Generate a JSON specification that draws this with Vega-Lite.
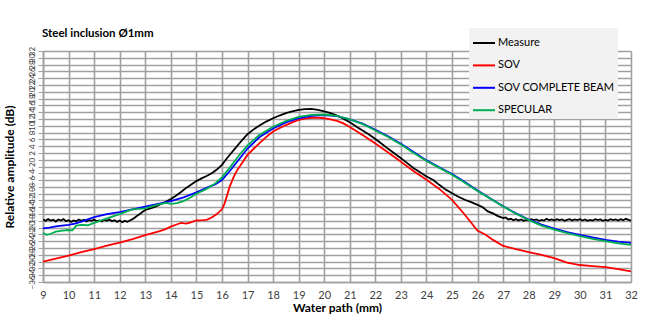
{
  "$schema": "https://vega.github.io/schema/vega-lite/v6.json",
  "width": 588,
  "height": 231,
  "autosize": "none",
  "padding": {"left": 43, "top": 51, "right": 30, "bottom": 54},
  "background": "white",
  "config": {"view": {"stroke": null}, "font": "Lato"},
  "title": {"text": "Steel inclusion Ø1mm", "anchor": "start", "frame": "group", "fontSize": 11.5, "fontWeight": "bold", "font": "Lato", "color": "#000000", "offset": -11, "dx": -1},
  "data": {"values": [
    {"s":"Measure","x":9.0,"y":-17.6},{"s":"Measure","x":9.1,"y":-18.0},{"s":"Measure","x":9.2,"y":-17.5},{"s":"Measure","x":9.3,"y":-17.9},{"s":"Measure","x":9.4,"y":-17.7},{"s":"Measure","x":9.5,"y":-18.2},{"s":"Measure","x":9.6,"y":-17.6},{"s":"Measure","x":9.7,"y":-17.9},{"s":"Measure","x":9.8,"y":-17.5},{"s":"Measure","x":9.9,"y":-18.1},
    {"s":"Measure","x":10.0,"y":-17.8},{"s":"Measure","x":10.1,"y":-18.3},{"s":"Measure","x":10.2,"y":-17.9},{"s":"Measure","x":10.3,"y":-18.1},{"s":"Measure","x":10.4,"y":-17.6},{"s":"Measure","x":10.5,"y":-18.0},{"s":"Measure","x":10.6,"y":-17.7},{"s":"Measure","x":10.7,"y":-18.2},{"s":"Measure","x":10.8,"y":-17.8},{"s":"Measure","x":10.9,"y":-18.0},
    {"s":"Measure","x":11.0,"y":-17.6},{"s":"Measure","x":11.1,"y":-18.1},{"s":"Measure","x":11.2,"y":-17.9},{"s":"Measure","x":11.3,"y":-18.2},{"s":"Measure","x":11.4,"y":-17.7},{"s":"Measure","x":11.5,"y":-18.0},{"s":"Measure","x":11.6,"y":-17.6},{"s":"Measure","x":11.7,"y":-18.1},{"s":"Measure","x":11.8,"y":-17.8},{"s":"Measure","x":11.9,"y":-18.3},
    {"s":"Measure","x":12.0,"y":-17.9},{"s":"Measure","x":12.1,"y":-18.4},{"s":"Measure","x":12.2,"y":-18.0},{"s":"Measure","x":12.3,"y":-18.3},{"s":"Measure","x":12.4,"y":-17.9},{"s":"Measure","x":12.5,"y":-17.5},{"s":"Measure","x":12.6,"y":-17.0},{"s":"Measure","x":12.7,"y":-16.4},{"s":"Measure","x":12.8,"y":-15.9},{"s":"Measure","x":12.9,"y":-15.3},
    {"s":"Measure","x":13.0,"y":-14.8},{"s":"Measure","x":13.2,"y":-14.3},{"s":"Measure","x":13.4,"y":-13.8},{"s":"Measure","x":13.6,"y":-13.1},{"s":"Measure","x":13.8,"y":-12.4},{"s":"Measure","x":14.0,"y":-11.6},{"s":"Measure","x":14.2,"y":-10.6},{"s":"Measure","x":14.4,"y":-9.5},{"s":"Measure","x":14.6,"y":-8.3},{"s":"Measure","x":14.8,"y":-7.3},
    {"s":"Measure","x":15.0,"y":-6.3},{"s":"Measure","x":15.2,"y":-5.5},{"s":"Measure","x":15.4,"y":-4.8},{"s":"Measure","x":15.6,"y":-4.0},{"s":"Measure","x":15.8,"y":-2.9},{"s":"Measure","x":16.0,"y":-1.5},{"s":"Measure","x":16.15,"y":0.0},{"s":"Measure","x":16.3,"y":1.4},{"s":"Measure","x":16.5,"y":3.2},{"s":"Measure","x":16.7,"y":5.0},
    {"s":"Measure","x":16.85,"y":6.3},{"s":"Measure","x":17.0,"y":7.5},{"s":"Measure","x":17.25,"y":9.0},{"s":"Measure","x":17.5,"y":10.2},{"s":"Measure","x":17.75,"y":11.3},{"s":"Measure","x":18.0,"y":12.2},{"s":"Measure","x":18.25,"y":13.0},{"s":"Measure","x":18.5,"y":13.7},{"s":"Measure","x":18.75,"y":14.2},{"s":"Measure","x":19.0,"y":14.65},
    {"s":"Measure","x":19.25,"y":14.9},{"s":"Measure","x":19.5,"y":14.95},{"s":"Measure","x":19.75,"y":14.7},{"s":"Measure","x":20.0,"y":14.2},{"s":"Measure","x":20.25,"y":13.7},{"s":"Measure","x":20.5,"y":13.0},{"s":"Measure","x":20.75,"y":12.1},{"s":"Measure","x":21.0,"y":11.0},{"s":"Measure","x":21.25,"y":9.8},{"s":"Measure","x":21.5,"y":8.6},
    {"s":"Measure","x":21.75,"y":7.4},{"s":"Measure","x":22.0,"y":6.1},{"s":"Measure","x":22.25,"y":4.7},{"s":"Measure","x":22.5,"y":3.2},{"s":"Measure","x":22.75,"y":1.8},{"s":"Measure","x":23.0,"y":0.4},{"s":"Measure","x":23.25,"y":-1.0},{"s":"Measure","x":23.5,"y":-2.5},{"s":"Measure","x":23.75,"y":-3.7},{"s":"Measure","x":24.0,"y":-4.95},
    {"s":"Measure","x":24.25,"y":-5.9},{"s":"Measure","x":24.5,"y":-7.4},{"s":"Measure","x":24.75,"y":-8.8},{"s":"Measure","x":25.0,"y":-9.9},{"s":"Measure","x":25.25,"y":-10.9},{"s":"Measure","x":25.5,"y":-11.8},{"s":"Measure","x":25.75,"y":-12.5},{"s":"Measure","x":26.0,"y":-13.3},{"s":"Measure","x":26.2,"y":-14.0},{"s":"Measure","x":26.4,"y":-15.2},
    {"s":"Measure","x":26.6,"y":-15.8},{"s":"Measure","x":26.8,"y":-16.6},{"s":"Measure","x":27.0,"y":-17.2},{"s":"Measure","x":27.1,"y":-17.0},{"s":"Measure","x":27.2,"y":-17.6},{"s":"Measure","x":27.3,"y":-17.4},{"s":"Measure","x":27.4,"y":-17.8},
    {"s":"Measure","x":27.5,"y":-17.5},{"s":"Measure","x":27.6,"y":-17.9},{"s":"Measure","x":27.7,"y":-17.6},{"s":"Measure","x":27.8,"y":-18.0},{"s":"Measure","x":27.9,"y":-17.7},{"s":"Measure","x":28.0,"y":-17.9},{"s":"Measure","x":28.1,"y":-17.5},{"s":"Measure","x":28.2,"y":-17.8},{"s":"Measure","x":28.3,"y":-17.6},{"s":"Measure","x":28.4,"y":-18.0},
    {"s":"Measure","x":28.5,"y":-17.7},{"s":"Measure","x":28.6,"y":-17.9},{"s":"Measure","x":28.7,"y":-17.4},{"s":"Measure","x":28.8,"y":-17.8},{"s":"Measure","x":28.9,"y":-17.6},{"s":"Measure","x":29.0,"y":-17.9},{"s":"Measure","x":29.1,"y":-17.5},{"s":"Measure","x":29.2,"y":-17.8},{"s":"Measure","x":29.3,"y":-17.6},{"s":"Measure","x":29.4,"y":-18.0},
    {"s":"Measure","x":29.5,"y":-17.7},{"s":"Measure","x":29.6,"y":-17.5},{"s":"Measure","x":29.7,"y":-17.9},{"s":"Measure","x":29.8,"y":-17.6},{"s":"Measure","x":29.9,"y":-17.8},{"s":"Measure","x":30.0,"y":-17.5},{"s":"Measure","x":30.1,"y":-17.9},{"s":"Measure","x":30.2,"y":-17.6},{"s":"Measure","x":30.3,"y":-18.0},{"s":"Measure","x":30.4,"y":-17.7},
    {"s":"Measure","x":30.5,"y":-17.9},{"s":"Measure","x":30.6,"y":-17.5},{"s":"Measure","x":30.7,"y":-17.8},{"s":"Measure","x":30.8,"y":-17.6},{"s":"Measure","x":30.9,"y":-18.0},{"s":"Measure","x":31.0,"y":-17.7},{"s":"Measure","x":31.1,"y":-17.9},{"s":"Measure","x":31.2,"y":-17.5},{"s":"Measure","x":31.3,"y":-17.8},{"s":"Measure","x":31.4,"y":-17.6},
    {"s":"Measure","x":31.5,"y":-17.9},{"s":"Measure","x":31.6,"y":-17.5},{"s":"Measure","x":31.7,"y":-17.8},{"s":"Measure","x":31.8,"y":-17.4},{"s":"Measure","x":31.9,"y":-17.7},{"s":"Measure","x":32.0,"y":-17.9},

    {"s":"SOV","x":9.0,"y":-30.0},{"s":"SOV","x":9.5,"y":-29.1},{"s":"SOV","x":10.0,"y":-28.2},{"s":"SOV","x":10.5,"y":-27.2},{"s":"SOV","x":11.0,"y":-26.3},{"s":"SOV","x":11.5,"y":-25.3},{"s":"SOV","x":12.0,"y":-24.4},{"s":"SOV","x":12.5,"y":-23.4},{"s":"SOV","x":13.0,"y":-22.2},{"s":"SOV","x":13.5,"y":-21.2},
    {"s":"SOV","x":13.75,"y":-20.6},{"s":"SOV","x":14.0,"y":-19.7},{"s":"SOV","x":14.25,"y":-19.0},{"s":"SOV","x":14.4,"y":-18.6},{"s":"SOV","x":14.6,"y":-18.8},{"s":"SOV","x":14.75,"y":-18.5},{"s":"SOV","x":15.0,"y":-17.9},{"s":"SOV","x":15.25,"y":-17.8},{"s":"SOV","x":15.4,"y":-17.7},{"s":"SOV","x":15.6,"y":-17.0},
    {"s":"SOV","x":15.8,"y":-16.0},{"s":"SOV","x":16.0,"y":-14.6},{"s":"SOV","x":16.1,"y":-13.0},{"s":"SOV","x":16.2,"y":-10.5},{"s":"SOV","x":16.3,"y":-8.0},{"s":"SOV","x":16.45,"y":-5.2},{"s":"SOV","x":16.6,"y":-3.0},{"s":"SOV","x":16.8,"y":-0.8},{"s":"SOV","x":17.0,"y":1.4},{"s":"SOV","x":17.25,"y":3.3},
    {"s":"SOV","x":17.5,"y":5.1},{"s":"SOV","x":17.75,"y":6.8},{"s":"SOV","x":18.0,"y":8.3},{"s":"SOV","x":18.25,"y":9.3},{"s":"SOV","x":18.5,"y":10.2},{"s":"SOV","x":18.75,"y":11.0},{"s":"SOV","x":19.0,"y":11.7},{"s":"SOV","x":19.25,"y":12.1},{"s":"SOV","x":19.5,"y":12.35},{"s":"SOV","x":19.75,"y":12.4},
    {"s":"SOV","x":20.0,"y":12.2},{"s":"SOV","x":20.25,"y":11.9},{"s":"SOV","x":20.5,"y":11.4},{"s":"SOV","x":20.75,"y":10.7},{"s":"SOV","x":21.0,"y":9.6},{"s":"SOV","x":21.5,"y":7.3},{"s":"SOV","x":22.0,"y":4.8},{"s":"SOV","x":22.5,"y":2.1},{"s":"SOV","x":23.0,"y":-0.6},{"s":"SOV","x":23.5,"y":-3.4},
    {"s":"SOV","x":24.0,"y":-5.9},{"s":"SOV","x":24.5,"y":-8.6},{"s":"SOV","x":25.0,"y":-11.8},{"s":"SOV","x":25.5,"y":-16.2},{"s":"SOV","x":26.0,"y":-20.9},{"s":"SOV","x":26.3,"y":-22.0},{"s":"SOV","x":26.6,"y":-23.6},{"s":"SOV","x":27.0,"y":-25.4},{"s":"SOV","x":27.5,"y":-26.3},{"s":"SOV","x":28.0,"y":-27.2},
    {"s":"SOV","x":28.5,"y":-28.0},{"s":"SOV","x":29.0,"y":-29.0},{"s":"SOV","x":29.5,"y":-30.3},{"s":"SOV","x":30.0,"y":-31.0},{"s":"SOV","x":30.5,"y":-31.3},{"s":"SOV","x":31.0,"y":-31.6},{"s":"SOV","x":31.5,"y":-32.2},{"s":"SOV","x":32.0,"y":-32.9},

    {"s":"SOV COMPLETE BEAM","x":9.0,"y":-20.2},{"s":"SOV COMPLETE BEAM","x":9.25,"y":-20.0},{"s":"SOV COMPLETE BEAM","x":9.5,"y":-19.6},{"s":"SOV COMPLETE BEAM","x":10.0,"y":-19.2},{"s":"SOV COMPLETE BEAM","x":10.25,"y":-18.8},{"s":"SOV COMPLETE BEAM","x":10.5,"y":-18.2},{"s":"SOV COMPLETE BEAM","x":11.0,"y":-16.9},{"s":"SOV COMPLETE BEAM","x":11.5,"y":-16.0},{"s":"SOV COMPLETE BEAM","x":12.0,"y":-15.4},{"s":"SOV COMPLETE BEAM","x":12.5,"y":-14.6},
    {"s":"SOV COMPLETE BEAM","x":13.0,"y":-13.8},{"s":"SOV COMPLETE BEAM","x":13.5,"y":-13.0},{"s":"SOV COMPLETE BEAM","x":14.0,"y":-12.2},{"s":"SOV COMPLETE BEAM","x":14.5,"y":-11.1},{"s":"SOV COMPLETE BEAM","x":15.0,"y":-9.6},{"s":"SOV COMPLETE BEAM","x":15.4,"y":-8.3},{"s":"SOV COMPLETE BEAM","x":15.75,"y":-7.2},{"s":"SOV COMPLETE BEAM","x":16.0,"y":-6.0},{"s":"SOV COMPLETE BEAM","x":16.3,"y":-3.4},{"s":"SOV COMPLETE BEAM","x":16.68,"y":0.2},
    {"s":"SOV COMPLETE BEAM","x":17.0,"y":3.3},{"s":"SOV COMPLETE BEAM","x":17.46,"y":6.6},{"s":"SOV COMPLETE BEAM","x":18.0,"y":9.2},{"s":"SOV COMPLETE BEAM","x":18.5,"y":11.0},{"s":"SOV COMPLETE BEAM","x":19.0,"y":12.2},{"s":"SOV COMPLETE BEAM","x":19.5,"y":12.9},{"s":"SOV COMPLETE BEAM","x":20.0,"y":13.1},{"s":"SOV COMPLETE BEAM","x":20.5,"y":12.8},{"s":"SOV COMPLETE BEAM","x":21.0,"y":11.9},{"s":"SOV COMPLETE BEAM","x":21.5,"y":10.6},
    {"s":"SOV COMPLETE BEAM","x":22.0,"y":8.8},{"s":"SOV COMPLETE BEAM","x":22.5,"y":6.9},{"s":"SOV COMPLETE BEAM","x":23.0,"y":4.7},{"s":"SOV COMPLETE BEAM","x":23.5,"y":2.3},{"s":"SOV COMPLETE BEAM","x":24.0,"y":-0.2},{"s":"SOV COMPLETE BEAM","x":24.5,"y":-2.2},{"s":"SOV COMPLETE BEAM","x":25.0,"y":-4.2},{"s":"SOV COMPLETE BEAM","x":25.5,"y":-6.6},{"s":"SOV COMPLETE BEAM","x":26.0,"y":-9.1},{"s":"SOV COMPLETE BEAM","x":26.5,"y":-11.4},
    {"s":"SOV COMPLETE BEAM","x":27.0,"y":-13.7},{"s":"SOV COMPLETE BEAM","x":27.5,"y":-15.8},{"s":"SOV COMPLETE BEAM","x":28.0,"y":-17.6},{"s":"SOV COMPLETE BEAM","x":28.5,"y":-19.1},{"s":"SOV COMPLETE BEAM","x":29.0,"y":-20.3},{"s":"SOV COMPLETE BEAM","x":29.5,"y":-21.3},{"s":"SOV COMPLETE BEAM","x":30.0,"y":-22.1},{"s":"SOV COMPLETE BEAM","x":30.5,"y":-22.9},{"s":"SOV COMPLETE BEAM","x":31.0,"y":-23.6},{"s":"SOV COMPLETE BEAM","x":31.5,"y":-24.1},{"s":"SOV COMPLETE BEAM","x":32.0,"y":-24.5},

    {"s":"SPECULAR","x":9.0,"y":-21.6},{"s":"SPECULAR","x":9.15,"y":-22.1},{"s":"SPECULAR","x":9.3,"y":-21.8},{"s":"SPECULAR","x":9.5,"y":-21.2},{"s":"SPECULAR","x":9.75,"y":-20.9},{"s":"SPECULAR","x":10.0,"y":-20.7},{"s":"SPECULAR","x":10.15,"y":-20.8},{"s":"SPECULAR","x":10.3,"y":-19.4},{"s":"SPECULAR","x":10.5,"y":-19.2},{"s":"SPECULAR","x":10.75,"y":-19.3},
    {"s":"SPECULAR","x":11.0,"y":-18.6},{"s":"SPECULAR","x":11.5,"y":-17.3},{"s":"SPECULAR","x":12.0,"y":-16.0},{"s":"SPECULAR","x":12.25,"y":-15.3},{"s":"SPECULAR","x":12.5,"y":-14.6},{"s":"SPECULAR","x":12.75,"y":-14.5},{"s":"SPECULAR","x":13.0,"y":-14.3},{"s":"SPECULAR","x":13.5,"y":-13.2},{"s":"SPECULAR","x":13.8,"y":-12.7},{"s":"SPECULAR","x":14.0,"y":-13.0},
    {"s":"SPECULAR","x":14.25,"y":-12.8},{"s":"SPECULAR","x":14.5,"y":-12.2},{"s":"SPECULAR","x":14.75,"y":-11.2},{"s":"SPECULAR","x":15.0,"y":-10.0},{"s":"SPECULAR","x":15.4,"y":-8.6},{"s":"SPECULAR","x":15.75,"y":-6.9},{"s":"SPECULAR","x":16.0,"y":-5.2},{"s":"SPECULAR","x":16.3,"y":-2.4},{"s":"SPECULAR","x":16.68,"y":1.4},{"s":"SPECULAR","x":17.0,"y":4.2},
    {"s":"SPECULAR","x":17.46,"y":7.3},{"s":"SPECULAR","x":18.0,"y":9.7},{"s":"SPECULAR","x":18.5,"y":11.4},{"s":"SPECULAR","x":19.0,"y":12.6},{"s":"SPECULAR","x":19.5,"y":13.2},{"s":"SPECULAR","x":20.0,"y":13.3},{"s":"SPECULAR","x":20.5,"y":12.9},{"s":"SPECULAR","x":21.0,"y":11.9},{"s":"SPECULAR","x":21.5,"y":10.5},{"s":"SPECULAR","x":22.0,"y":8.6},
    {"s":"SPECULAR","x":22.5,"y":6.7},{"s":"SPECULAR","x":23.0,"y":4.5},{"s":"SPECULAR","x":23.5,"y":2.0},{"s":"SPECULAR","x":24.0,"y":-0.4},{"s":"SPECULAR","x":24.5,"y":-2.4},{"s":"SPECULAR","x":25.0,"y":-4.4},{"s":"SPECULAR","x":25.5,"y":-6.8},{"s":"SPECULAR","x":26.0,"y":-9.2},{"s":"SPECULAR","x":26.5,"y":-11.5},{"s":"SPECULAR","x":27.0,"y":-13.8},
    {"s":"SPECULAR","x":27.5,"y":-15.9},{"s":"SPECULAR","x":28.0,"y":-17.8},{"s":"SPECULAR","x":28.5,"y":-19.4},{"s":"SPECULAR","x":29.0,"y":-20.6},{"s":"SPECULAR","x":29.5,"y":-21.6},{"s":"SPECULAR","x":30.0,"y":-22.5},{"s":"SPECULAR","x":30.5,"y":-23.3},{"s":"SPECULAR","x":31.0,"y":-24.0},{"s":"SPECULAR","x":31.5,"y":-24.6},{"s":"SPECULAR","x":32.0,"y":-25.1}
  ]},
  "mark": {"type": "line", "strokeWidth": 1.8, "clip": true},
  "encoding": {
    "x": {"field": "x", "type": "quantitative",
      "scale": {"domain": [9, 32], "nice": false, "zero": false},
      "axis": {"values": [9,10,11,12,13,14,15,16,17,18,19,20,21,22,23,24,25,26,27,28,29,30,31,32],
        "title": "Water path (mm)", "titleFont": "Lato", "titleFontSize": 12, "titleFontWeight": "bold", "titleColor": "#000000", "titlePadding": 2,
        "labelFont": "Lato", "labelFontSize": 11, "labelColor": "#404040", "labelPadding": 7, "labelFlush": false,
        "ticks": false, "grid": true, "gridColor": "#a0a0a0", "gridWidth": 1.6,
        "domainColor": "#a0a0a0", "domainWidth": 1.6}},
    "y": {"field": "y", "type": "quantitative",
      "scale": {"domain": [-36, 32], "nice": false, "zero": false},
      "axis": {"values": [-36,-34,-32,-30,-28,-26,-24,-22,-20,-18,-16,-14,-12,-10,-8,-6,-4,-2,0,2,4,6,8,10,12,14,16,18,20,22,24,26,28,30,32],
        "title": "Relative amplitude (dB)", "titleFont": "Lato", "titleFontSize": 12, "titleFontWeight": "bold", "titleColor": "#000000", "titlePadding": 12,
        "labelFont": "Lato", "labelFontSize": 8, "labelColor": "#404040", "labelAngle": 270, "labelOverlap": false, "labelPadding": 2, "labelFlush": false,
        "ticks": true, "tickSize": 5, "tickColor": "#a0a0a0", "grid": true, "gridColor": "#a0a0a0", "gridWidth": 1.4,
        "domainColor": "#a0a0a0", "domainWidth": 1.6}},
    "color": {"field": "s", "type": "nominal",
      "scale": {"domain": ["Measure", "SOV", "SOV COMPLETE BEAM", "SPECULAR"], "range": ["#000000", "#ff0000", "#0000ff", "#00b050"]},
      "legend": {"title": null, "orient": "none", "legendX": 426, "legendY": -23,
        "fillColor": "#f2f2f2", "padding": 3, "symbolType": "stroke", "symbolSize": 484, "symbolStrokeWidth": 2,
        "labelFont": "Lato", "labelFontSize": 11, "labelColor": "#000000", "labelOffset": 2, "rowPadding": 5.4, "labelLimit": 200}}
  }
}
